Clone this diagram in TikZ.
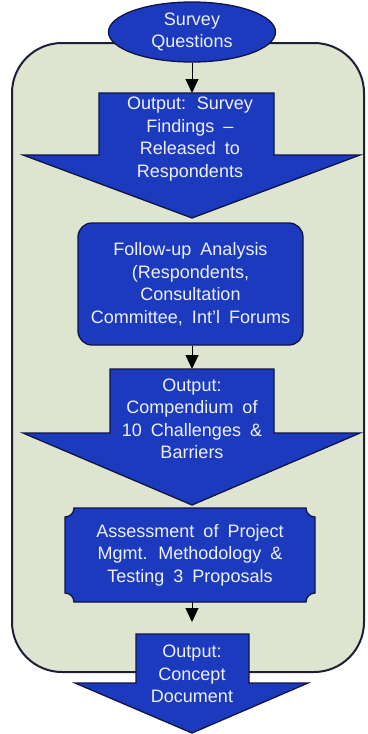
\documentclass[tikz,border=0pt]{standalone}
\usepackage{fontspec}
\setmainfont{Liberation Sans}
\usetikzlibrary{arrows.meta,shapes.geometric}
\definecolor{bgfill}{RGB}{221,228,207}
\definecolor{bgline}{RGB}{30,30,55}
\definecolor{blueA}{RGB}{28,58,190}
\definecolor{navy}{RGB}{15,20,70}
\definecolor{txtc}{RGB}{238,240,255}
\newcommand\widespaces{\spaceskip=0.5em plus 0.1em\relax}
\begin{document}
\begin{tikzpicture}[x=1pt,y=-1pt,
  shapefill/.style={fill=blueA,draw=navy,line width=1.3pt},
  txt/.style={text=txtc,align=center,inner sep=0pt,
    font=\fontsize{18}{22.5}\selectfont,
    execute at begin node=\widespaces},
  conn/.style={-{Triangle[width=13pt,length=14pt]},line width=1pt,black}]
\useasboundingbox (0,0) rectangle (367,734);
% background panel
\draw[fill=bgfill,draw=bgline,line width=2pt,rounded corners=50pt] (12,43) rectangle (364,672);

% start ellipse
\node[ellipse,shapefill,txt,minimum width=167pt,minimum height=60pt] (sq) at (192,32) {Survey\\Questions};

% output arrow 1
\draw[shapefill] (99,93) -- (274,93) -- (274,155) -- (360,155) -- (192,218) -- (23,155) -- (99,155) -- cycle;
\coordinate (a1top) at (192,93);
\node[txt] (o1) at (190,139) {Output: Survey\\Findings --\\Released to\\Respondents};

% follow-up analysis
\node[shapefill,txt,rounded corners=14pt,minimum width=225pt,minimum height=122pt] (fu) at (190.5,284)
  {Follow-up Analysis\\(Respondents,\\Consultation\\Committee, Int'l Forums};

% output arrow 2
\draw[shapefill] (110,369) -- (274,369) -- (274,433) -- (360,433) -- (192,505) -- (23,433) -- (110,433) -- cycle;
\coordinate (a2top) at (192,369);
\node[txt] (o2) at (192,419) {Output:\\Compendium of\\10 Challenges \&\\Barriers};

% assessment plaque
\draw[shapefill] (74,508) -- (306,508) arc[start angle=180,end angle=90,radius=9]
  -- (315,593) arc[start angle=270,end angle=180,radius=9]
  -- (74,602) arc[start angle=0,end angle=-90,radius=9]
  -- (65,517) arc[start angle=90,end angle=0,radius=9] -- cycle;
\node[txt,minimum width=250pt,minimum height=94pt] (as) at (190,555)
  {Assessment of Project\\Mgmt. Methodology \&\\Testing 3 Proposals};
\coordinate (c3) at (192,622);

% output arrow 3
\draw[shapefill] (136,634) -- (249,634) -- (249,683) -- (308,683) -- (192,733) -- (75,683) -- (136,683) -- cycle;
\node[txt] (o3) at (192,674) {Output:\\Concept\\Document};

% connectors
\draw[conn] (sq.south) -- (a1top);
\draw[conn] (fu.south -| a2top) -- (a2top);
\draw[conn] (as.south -| c3) -- (c3);
\end{tikzpicture}
\end{document}
